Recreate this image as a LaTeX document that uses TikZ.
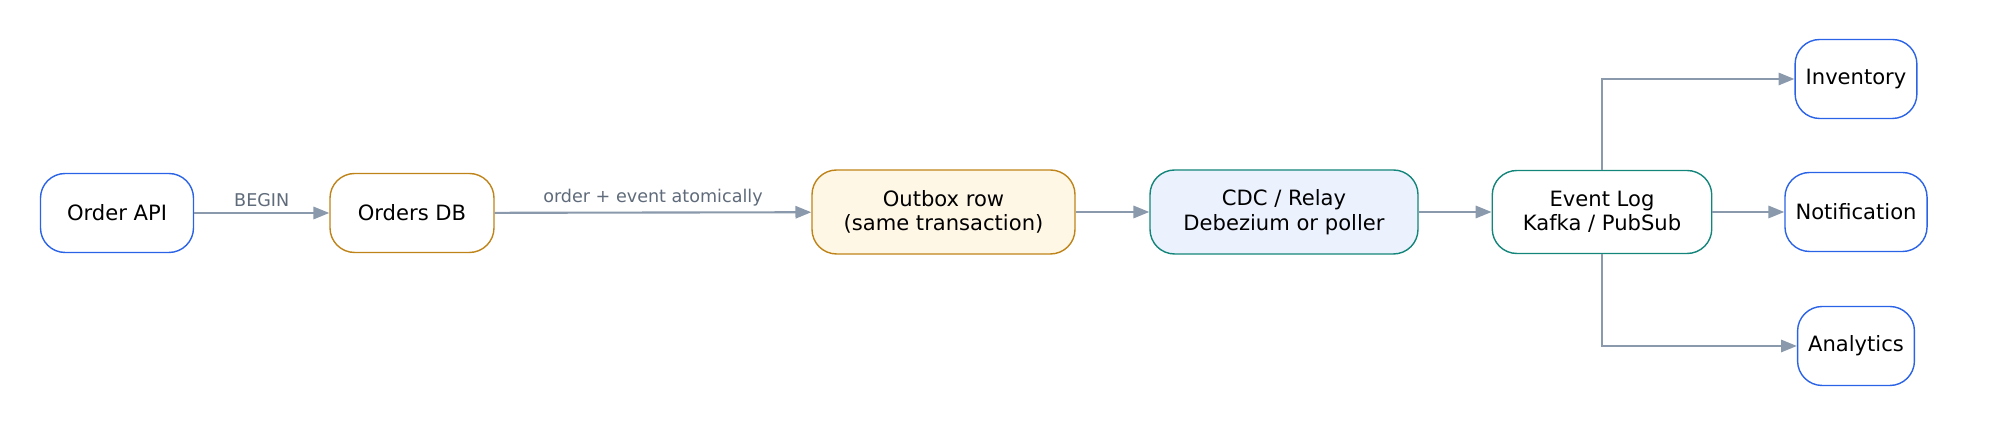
\documentclass[tikz,border=0pt]{standalone}
\usepackage{fontspec}
\setmainfont{DejaVu Sans}
\usepackage{xcolor}
\usetikzlibrary{arrows.meta,positioning}

\definecolor{svcblue}{HTML}{2B63E6}
\definecolor{dbamber}{HTML}{BF8419}
\definecolor{relayteal}{HTML}{14857A}
\definecolor{edgegray}{HTML}{8A99AC}
\definecolor{labelgray}{HTML}{5F6B7A}
\definecolor{outboxfill}{HTML}{FFF7E6}
\definecolor{cdcfill}{HTML}{EBF2FE}

\tikzset{
  box/.style={draw, thick, rounded corners=14pt, align=center, minimum height=1.58cm, inner sep=6pt, font=\large},
  svc/.style={box, svcblue},
  flow/.style={-{Triangle[length=9pt,width=7pt]}, very thick, edgegray},
  elabel/.style={font=\normalsize, text=labelgray, above, inner sep=3pt}
}

\begin{document}
\begin{tikzpicture}
\useasboundingbox (0,0) rectangle (39.86,8.5);

% Write path
\node[svc, text=black, minimum width=3.06cm] (api) at (2.34,4.24) {Order API};
\node[box, dbamber, text=black, minimum width=3.28cm] (db) at (8.24,4.24) {Orders DB};
\node[box, dbamber, fill=outboxfill, text=black, minimum width=5.26cm, minimum height=1.68cm] (outbox) at (18.87,4.26) {Outbox row\\(same transaction)};

% Relay and log
\node[box, relayteal, fill=cdcfill, text=black, minimum width=5.36cm, minimum height=1.68cm] (cdc) at (25.68,4.26) {CDC / Relay\\Debezium or poller};
\node[box, relayteal, text=black, minimum width=4.39cm, minimum height=1.66cm] (log) at (32.04,4.26) {Event Log\\Kafka / PubSub};

% Consumers
\node[svc, text=black, minimum width=2.4cm] (inv) at (37.12,6.92) {Inventory};
\node[svc, text=black, minimum width=2.81cm] (notif) at (37.12,4.26) {Notification};
\node[svc, text=black, minimum width=2.3cm] (ana) at (37.12,1.58) {Analytics};

% Edges
\draw[flow] (api) -- node[elabel] {BEGIN} (db);
\draw[flow] (db) -- node[elabel] {order + event atomically} (outbox);
\draw[flow] (outbox) -- (cdc);
\draw[flow] (cdc) -- (log);
\draw[flow] (log.north) |- (inv.west);
\draw[flow] (log) -- (notif);
\draw[flow] (log.south) |- (ana.west);

\end{tikzpicture}
\end{document}
